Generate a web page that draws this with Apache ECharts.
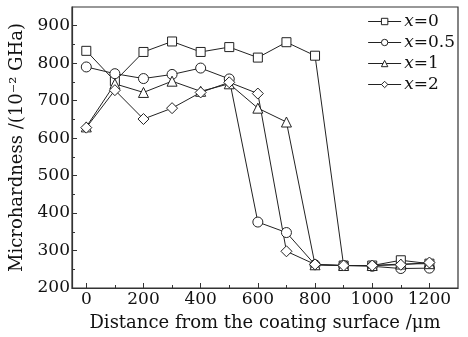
<!DOCTYPE html>
<html><head><meta charset="utf-8">
<script src="https://cdn.jsdelivr.net/npm/echarts@6/dist/echarts.min.js"></script>
<style>html,body{margin:0;padding:0;background:#fff}#c{width:468px;height:337px}</style>
</head><body><div id="c"></div>
<script>
var distances = [0, 100, 200, 300, 400, 500, 600, 700, 800, 900, 1000, 1100, 1200];
var seriesNames = ['x=0', 'x=0.5', 'x=1', 'x=2'];
var hx0  = [833, 752, 830, 858, 830, 843, 815, 856, 820, 260, 260, 274, 265];
var hx05 = [790, 772, 759, 770, 787, 758, 376, 348, 262, 260, 258, 252, 253];
var hx1  = [630, 745, 722, 752, 725, 745, 680, 643, 262, 260, 260, 264, 265];
var hx2  = [628, 728, 651, 680, 722, 749, 719, 298, 263, 260, 260, 262, 268];
var xTickLabels = [0, 200, 400, 600, 800, 1000, 1200];
var xMinorTicks = [100, 300, 500, 700, 900, 1100];
var yTickLabels = [200, 300, 400, 500, 600, 700, 800, 900];
var yMinorTicks = [250, 350, 450, 550, 650, 750, 850];

var FONT = 'DejaVu Serif';
var symbols = ['rect', 'circle', 'triangle', 'diamond'];
var sizes = [9, 10, 10, 11];
var values = [hx0, hx05, hx1, hx2];

function pairs(arr) { return distances.map(function (d, i) { return [d, arr[i]]; }); }

var gridBox = { left: 72, right: 10, top: 7, bottom: 49 };
var chart = echarts.init(document.getElementById('c'));
chart.setOption({
  animation: false,
  backgroundColor: '#fff',
  textStyle: { fontFamily: FONT, color: '#111' },
  grid: [
    Object.assign({ show: true, borderColor: '#333', borderWidth: 1.2 }, gridBox),
    Object.assign({ show: false }, gridBox)
  ],
  legend: {
    right: 8, top: 8, orient: 'vertical', itemGap: 4, itemWidth: 33, itemHeight: 8,
    data: seriesNames,
    itemStyle: { color: '#fff', borderColor: '#222', borderWidth: 1 },
    lineStyle: { color: '#222', width: 1 },
    formatter: function (n) { return '{i|x}{n|' + n.slice(1) + '}'; },
    textStyle: {
      color: '#111', padding: [0, 0, 0, -2],
      rich: {
        i: { fontFamily: FONT, fontStyle: 'italic', fontSize: 17, color: '#111' },
        n: { fontFamily: FONT, fontSize: 17, color: '#111' }
      }
    }
  },
  xAxis: [{
    gridIndex: 0, type: 'value', min: -50, max: 1300, position: 'bottom',
    name: 'Distance from the coating surface /\u03bcm', nameLocation: 'middle', nameGap: 26,
    nameTextStyle: { fontFamily: FONT, fontSize: 18, color: '#111' },
    axisLine: { show: true, onZero: false, lineStyle: { color: '#333', width: 1.2 } },
    axisTick: { show: true, inside: true, length: 5, customValues: xTickLabels, lineStyle: { color: '#333' } },
    axisLabel: { customValues: xTickLabels, formatter: function (v) { return String(v); },
      fontFamily: FONT, fontSize: 17, color: '#111', margin: 3 },
    splitLine: { show: false }
  }, {
    gridIndex: 1, type: 'value', min: -50, max: 1300, position: 'bottom',
    axisLine: { show: false, onZero: false },
    axisTick: { show: true, inside: true, length: 3, customValues: xMinorTicks, lineStyle: { color: '#333' } },
    axisLabel: { show: false },
    splitLine: { show: false }
  }],
  yAxis: [{
    gridIndex: 0, type: 'value', min: 200, max: 950, position: 'left',
    name: 'Microhardness /(10\u207b\u00b2 GHa)', nameLocation: 'middle', nameGap: 46, nameRotate: 90,
    nameTextStyle: { fontFamily: FONT, fontSize: 18, color: '#111' },
    axisLine: { show: true, onZero: false, lineStyle: { color: '#333', width: 1.2 } },
    axisTick: { show: true, inside: true, length: 5, customValues: yTickLabels, lineStyle: { color: '#333' } },
    axisLabel: { customValues: yTickLabels, fontFamily: FONT, fontSize: 17, color: '#111', margin: 2 },
    splitLine: { show: false }
  }, {
    gridIndex: 1, type: 'value', min: 200, max: 950, position: 'left',
    axisLine: { show: false, onZero: false },
    axisTick: { show: true, inside: true, length: 3, customValues: yMinorTicks, lineStyle: { color: '#333' } },
    axisLabel: { show: false },
    splitLine: { show: false }
  }],
  series: values.map(function (v, k) {
    return {
      name: seriesNames[k], type: 'line', data: pairs(v), xAxisIndex: 0, yAxisIndex: 0,
      symbol: symbols[k], symbolSize: sizes[k], showAllSymbol: true,
      lineStyle: { color: '#222', width: 1 },
      itemStyle: { color: '#fff', borderColor: '#222', borderWidth: 1 }
    };
  })
});
</script></body></html>
